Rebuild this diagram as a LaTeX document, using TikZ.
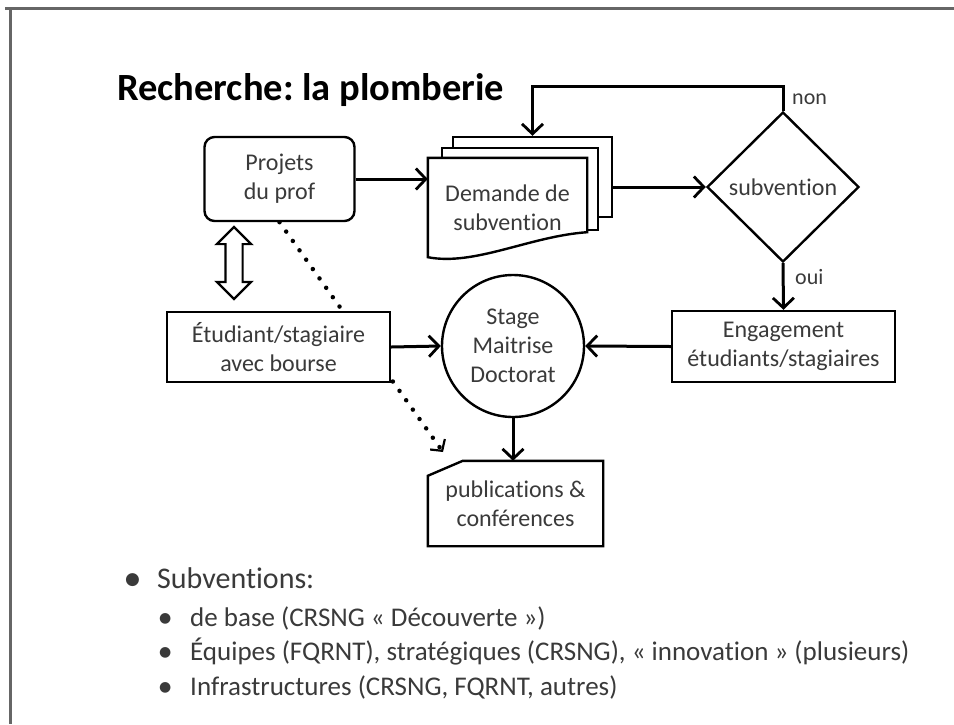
\documentclass[tikz,border=0pt]{standalone}
\usepackage{fontspec}
\setmainfont{Carlito}[Ligatures=NoCommon]
\newfontfamily\symfont{DejaVu Sans}
\usetikzlibrary{arrows.meta,shapes.geometric,shapes.arrows,positioning,backgrounds,calc}
\definecolor{txt}{HTML}{3A3A3A}
\newcommand{\bigdot}[2]{\raisebox{#2}{\symfont\fontsize{#1}{#1}\selectfont ●}}
\tikzset{
  box/.style    = { draw, line width=2.4pt, fill=white, text=txt, align=center, inner sep=0pt,
    font=\fontsize{24}{29}\selectfont },
  rbox/.style   = { box, rounded corners=10pt },
  page/.style   = { draw, line width=2.4pt, fill=white, inner sep=0pt },
  decision/.style = { box, diamond, minimum width=152pt, minimum height=150pt },
  stage/.style  = { box, circle, minimum size=142pt },
  flow/.style   = { line width=3pt, -{Straight Barb[length=10pt,width=21pt,line width=2.8pt]} },
  hint/.style   = { line width=4.5pt, line cap=round, dash pattern=on 0pt off 11.5pt,
    -{Straight Barb[length=8pt,width=18pt,line width=2.2pt]} },
  dblarrow/.style = { draw, line width=2.2pt, fill=white, double arrow, rotate=90,
    inner xsep=0pt, inner ysep=7.5pt, minimum height=72pt, double arrow head extend=8.5pt },
  lbl/.style    = { text=txt, anchor=west, inner sep=0pt, font=\fontsize{22}{26}\selectfont },
  itemone/.style = { anchor=base west, text=txt, inner sep=0pt, font=\fontsize{30}{36}\selectfont },
  itemtwo/.style = { anchor=base west, text=txt, inner sep=0pt, font=\fontsize{27}{32}\selectfont }
}
\begin{document}
\frenchspacing
\begin{tikzpicture}[x=1pt,y=-1pt]
  \useasboundingbox (0,0) rectangle (954,724);
  % slide edges
  \draw[line width=3pt, black!60] (5,8) -- (954,8);
  \draw[line width=3pt, black!60] (10,8) -- (10,724);
  \node[anchor=base west, inner sep=0pt, font=\bfseries\fontsize{38.5}{44}\selectfont] (title) at (117,100) {Recherche: la plomberie};
  % flow
  \node[rbox, minimum width=150pt, minimum height=84pt] (proj) at (279.5,179) {Projets\\du prof};
  \node[text=txt, align=center, inner sep=0pt, minimum width=159pt, minimum height=99pt,
    font=\fontsize{24}{29}\selectfont] (dem) at (507.5,207.5) {Demande de\\subvention};
  \begin{scope}[on background layer]
    \node[page, minimum width=159pt, minimum height=80pt] (dem3) at (532.5,177) {};
    \node[page, minimum width=156pt, minimum height=82pt] (dem2) at (520,189) {};
    \draw[page] (dem.south west) -- (dem.north west) -- (dem.north east) -- ($(dem.south east)+(0,-25)$)
      .. controls ($(dem.south west)+(102,-21)$) and ($(dem.south west)+(47,9)$) .. (dem.south west) -- cycle;
  \end{scope}
  \node[decision] (dia) at (783,187) {subvention};
  \node[box, minimum width=223pt, minimum height=71pt] (eng) at (783.5,346.5) {Engagement\\étudiants/stagiaires};
  \node[stage] (circ) at (513,346) {Stage\\Maitrise\\Doctorat};
  \node[box, minimum width=223pt, minimum height=70pt] (etu) at (278.5,347) {Étudiant/stagiaire\\avec bourse};
  \node[text=txt, align=center, inner sep=0pt, minimum width=175pt, minimum height=85pt,
    font=\fontsize{24}{29}\selectfont] (pub) at (515.5,503.5) {publications \&\\conférences};
  \node[dblarrow] (link) at (234,263) {};
  \coordinate (hinttip) at (443,452);
  \begin{scope}[on background layer]
    \draw[page] ($(pub.north west)+(0,15)$) -- ($(pub.north west)+(35,0)$) -- (pub.north east)
      -- (pub.south east) -- (pub.south west) -- cycle;
    \draw[hint] (proj.south) -- (hinttip);
  \end{scope}
  \draw[flow] (proj.east) -- (proj.east -| dem.west);
  \draw[flow] (dia.west -| dem3.east) -- (dia.west);
  \draw[flow] (dia.north) -- ++(0,-24) -| (dem3.north);
  \draw[flow] (dia.south) -- (eng.north);
  \draw[flow] (eng.west) -- (circ.east);
  \draw[flow] (etu.east) -- (circ.west);
  \draw[flow] (circ.south) -- (circ.south |- pub.north);
  \node[lbl] (non) at (792,99) {non};
  \node[lbl] (oui) at (795,277) {oui};
  % list
  \node[itemone] (sub) at (125,588) {\makebox[32pt][l]{\bigdot{17}{4pt}}Subventions:};
  \node[itemtwo] (base) at (159,626) {\makebox[31pt][l]{\bigdot{14}{3.5pt}}de base (CRSNG « Découverte »)};
  \node[itemtwo] (equ) at (159,660) {\makebox[31pt][l]{\bigdot{14}{3.5pt}}Équipes (FQRNT), stratégiques (CRSNG), « innovation » (plusieurs)};
  \node[itemtwo] (infra) at (159,695) {\makebox[31pt][l]{\bigdot{14}{3.5pt}}Infrastructures (CRSNG, FQRNT, autres)};
\end{tikzpicture}
\end{document}
